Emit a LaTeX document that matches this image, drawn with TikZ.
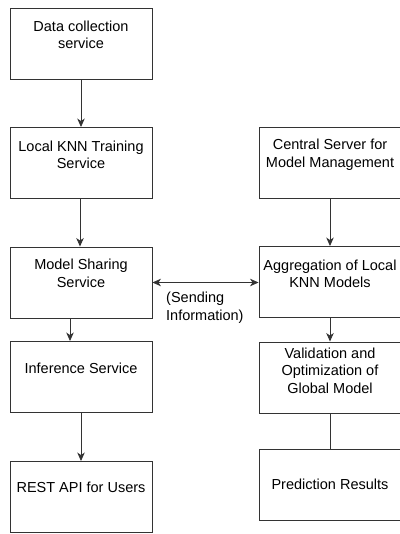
\documentclass[tikz,border=0pt]{standalone}
\usepackage{fontspec}
\setmainfont{Liberation Sans}
\usetikzlibrary{arrows.meta}

\tikzset{
  box/.style={draw=black!80, line width=0.9pt, minimum width=142pt, minimum height=71pt, inner sep=0pt},
  boxtext/.style={align=center, inner sep=0pt, font=\fontsize{14.5}{17.6}\selectfont, text=black},
  flow/.style={draw=black!80, line width=0.9pt, -{Stealth[length=8.5pt,width=7.5pt,inset=2.5pt]}},
}

\begin{document}
\begin{tikzpicture}[x=1pt, y=-1pt]
          \useasboundingbox (0, 0) rectangle (399, 534);

          % Left column
          \node [box] (collect) at (81, 44) {};
          \node [boxtext] (collect-t) at ([yshift=9pt]collect.center) {Data collection\\service};
          \node [box] (train) at (81, 163) {};
          \node [boxtext] (train-t) at ([yshift=8pt]train.center) {Local KNN Training\\Service};
          \node [box] (share) at (81, 282.5) {};
          \node [boxtext] (share-t) at ([yshift=9pt]share.center) {Model Sharing\\Service};
          \node [box] (infer) at (81, 377) {};
          \node [boxtext] (infer-t) at ([yshift=9pt]infer.center) {Inference Service};
          \node [box] (rest) at (81, 497) {};
          \node [boxtext] (rest-t) at ([yshift=10pt]rest.center) {REST API for Users};

          % Right column
          \node [box] (central) at (330, 163) {};
          \node [boxtext] (central-t) at ([yshift=8pt]central.center) {Central Server for\\Model Management};
          \node [box] (aggr) at (330, 282) {};
          \node [boxtext] (aggr-t) at ([yshift=8pt]aggr.center) {Aggregation of Local\\KNN Models};
          \node [box] (valid) at (330, 377.5) {};
          \node [boxtext] (valid-t) at ([yshift=7pt]valid.center) {Validation and\\Optimization of\\Global Model};
          \node [box] (pred) at (330, 484.5) {};
          \node [boxtext] (pred-t) at (pred.center) {Prediction Results};

          % Arrows
          \draw [flow] (collect) -- (train);
          \draw [flow] ([xshift=-1pt]train.south) -- ([xshift=-1pt]share.north);
          \draw [flow] ([xshift=-11pt]share.south) -- ([xshift=-11pt]infer.north);
          \draw [flow] (infer) -- (rest);
          \draw [flow] (central) -- (aggr);
          \draw [flow] (aggr) -- (valid);
          \draw [draw=black!80, line width=0.9pt] (valid) -- (pred);
          \draw [flow, {Stealth[length=8.5pt,width=7.5pt,inset=2.5pt]}-{Stealth[length=8.5pt,width=7.5pt,inset=2.5pt]}] (share.east) -- (share.east -| aggr.west);
          \node [boxtext, align=left, anchor=west] (sending) at (166, 307.5) {(Sending\\Information)};
        \end{tikzpicture}
\end{document}
